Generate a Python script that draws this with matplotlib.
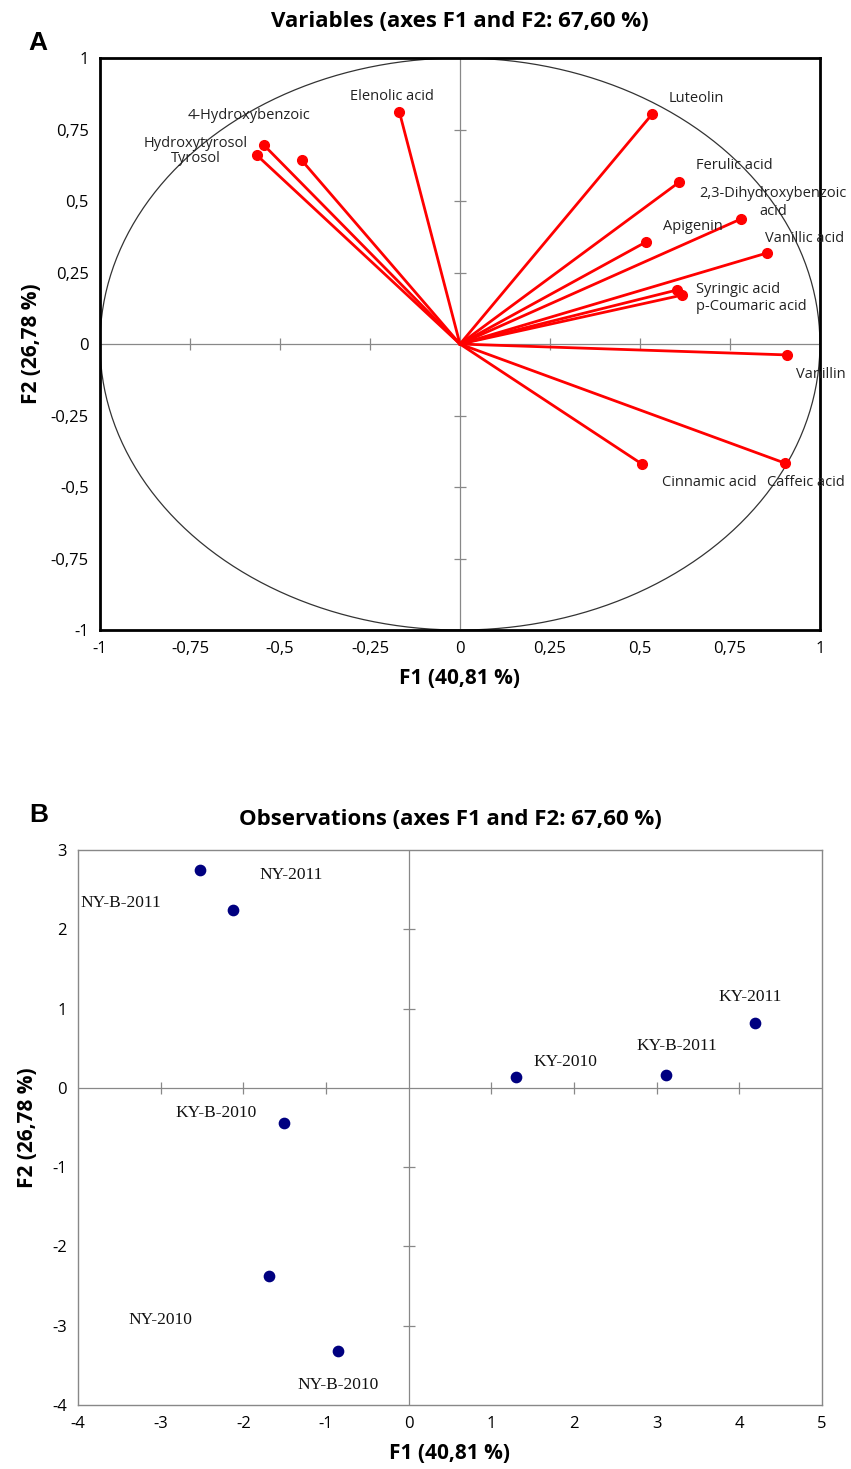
import numpy as np
import matplotlib
matplotlib.use("Agg")
import matplotlib.pyplot as plt
from matplotlib import font_manager

plt.rcParams['axes.unicode_minus'] = False

# pick a narrow sans that looks a bit like Calibri
names = set(f.name for f in font_manager.fontManager.ttflist)
narrow = 'Liberation Sans Narrow' if 'Liberation Sans Narrow' in names else 'Open Sans'
serif = 'Liberation Serif'

# --- panel A : variables (correlation circle) ---
var_names = ['Elenolic acid', '4-Hydroxybenzoic', 'Hydroxytyrosol', 'Tyrosol',
             'Luteolin', 'Ferulic acid', '2,3-Dihydroxybenzoic\nacid', 'Apigenin',
             'Vanillic acid', 'Syringic acid', 'p-Coumaric acid', 'Vanillin',
             'Caffeic acid', 'Cinnamic acid']
var_f1 = [-0.168, -0.44, -0.545, -0.564, 0.534, 0.609, 0.78, 0.517,
          0.852, 0.603, 0.617, 0.908, 0.902, 0.506]
var_f2 = [0.81, 0.643, 0.696, 0.66, 0.804, 0.566, 0.437, 0.357,
          0.318, 0.189, 0.171, -0.038, -0.416, -0.42]
# label anchor (x, y, ha)
var_lab = [(-0.19, 0.865, 'center'), (-0.585, 0.80, 'center'), (-0.59, 0.70, 'right'),
           (-0.665, 0.65, 'right'), (0.58, 0.86, 'left'), (0.656, 0.625, 'left'),
           (0.87, 0.495, 'center'), (0.564, 0.41, 'left'), (0.846, 0.37, 'left'),
           (0.656, 0.19, 'left'), (0.656, 0.13, 'left'), (0.933, -0.105, 'left'),
           (0.852, -0.483, 'left'), (0.56, -0.483, 'left')]
a_ticks = [-1, -0.75, -0.5, -0.25, 0, 0.25, 0.5, 0.75, 1]
a_ticklabels = ['-1', '-0,75', '-0,5', '-0,25', '0', '0,25', '0,5', '0,75', '1']

# --- panel B : observations ---
obs_names = ['NY-B-2011', 'NY-2011', 'KY-B-2010', 'NY-2010', 'NY-B-2010',
             'KY-2010', 'KY-B-2011', 'KY-2011']
obs_f1 = [-2.52, -2.13, -1.51, -1.69, -0.86, 1.30, 3.12, 4.19]
obs_f2 = [2.75, 2.24, -0.45, -2.37, -3.32, 0.14, 0.16, 0.82]
obs_lab = [(-3.97, 2.33), (-1.80, 2.69), (-2.82, -0.32), (-3.39, -2.93),
           (-1.34, -3.75), (1.51, 0.33), (2.76, 0.53), (3.75, 1.15)]
b_xticks = [-4, -3, -2, -1, 0, 1, 2, 3, 4, 5]
b_yticks = [-4, -3, -2, -1, 0, 1, 2, 3]

fig = plt.figure(figsize=(8.51, 14.69), dpi=100)

# ---------------- A ----------------
ax = fig.add_axes([0.1175, 0.5711, 0.846, 0.3894])
t = np.linspace(0, 2 * np.pi, 400)
ax.plot(np.cos(t), np.sin(t), color='#333333', lw=0.9, zorder=1)
ax.axhline(0, color='#888888', lw=0.9, zorder=1)
ax.axvline(0, color='#888888', lw=0.9, zorder=1)
tk = [v for v in a_ticks if v not in (-1, 0, 1)]
ax.plot(tk, [0] * len(tk), ls='none', marker='|', ms=9, mew=0.9, color='#888888', zorder=1)
ax.plot([0] * len(tk), tk, ls='none', marker='_', ms=9, mew=0.9, color='#888888', zorder=1)
for i in range(len(var_names)):
    ax.plot([0, var_f1[i]], [0, var_f2[i]], color='#ff0000', lw=2, zorder=3)
    ax.plot(var_f1[i], var_f2[i], 'o', color='#ff0000', ms=7, zorder=4)
    lx, ly, ha = var_lab[i]
    ax.text(lx, ly, var_names[i], ha=ha, va='center', fontsize=10.5,
            family=narrow, color='#222222', multialignment='center', zorder=5)
ax.set_xlim(-1, 1)
ax.set_ylim(-1, 1)
ax.set_xticks(a_ticks)
ax.set_xticklabels(a_ticklabels)
ax.set_yticks(a_ticks)
ax.set_yticklabels(a_ticklabels)
ax.tick_params(length=0, pad=8, labelsize=12)
for lab in ax.get_xticklabels() + ax.get_yticklabels():
    lab.set_family(narrow)
for s in ax.spines.values():
    s.set_linewidth(2)
    s.set_color('black')
ax.set_xlabel('F1 (40,81 %)', fontsize=15, fontweight='bold', family=narrow, labelpad=8)
ax.set_ylabel('F2 (26,78 %)', fontsize=15, fontweight='bold', family=narrow, labelpad=6)
ax.set_title('Variables (axes F1 and F2: 67,60 %)', fontsize=16, fontweight='bold',
             family=narrow, pad=22)
fig.text(0.045, 0.971, 'A', fontsize=19, fontweight='bold', family='Liberation Sans',
         va='center', ha='center')

# ---------------- B ----------------
bx = fig.add_axes([0.0917, 0.0436, 0.874, 0.3778])
bx.axhline(0, color='#888888', lw=0.9, zorder=1)
bx.axvline(0, color='#888888', lw=0.9, zorder=1)
tx = [v for v in b_xticks if v not in (-4, 0, 5)]
ty = [v for v in b_yticks if v not in (-4, 0, 3)]
bx.plot(tx, [0] * len(tx), ls='none', marker='|', ms=9, mew=0.9, color='#888888', zorder=1)
bx.plot([0] * len(ty), ty, ls='none', marker='_', ms=9, mew=0.9, color='#888888', zorder=1)
bx.scatter(obs_f1, obs_f2, s=55, color='#000080', zorder=3)
for i in range(len(obs_names)):
    bx.text(obs_lab[i][0], obs_lab[i][1], obs_names[i], ha='left', va='center',
            fontsize=12.5, family=serif, color='#111111')
bx.set_xlim(-4, 5)
bx.set_ylim(-4, 3)
bx.set_xticks(b_xticks)
bx.set_yticks(b_yticks)
bx.tick_params(length=0, pad=8, labelsize=12)
for lab in bx.get_xticklabels() + bx.get_yticklabels():
    lab.set_family(narrow)
for s in bx.spines.values():
    s.set_linewidth(1)
    s.set_color('#888888')
bx.set_xlabel('F1 (40,81 %)', fontsize=15, fontweight='bold', family=narrow, labelpad=8)
bx.set_ylabel('F2 (26,78 %)', fontsize=15, fontweight='bold', family=narrow, labelpad=10)
bx.set_title('Observations (axes F1 and F2: 67,60 %)', fontsize=16, fontweight='bold',
             family=narrow, pad=18)
fig.text(0.045, 0.445, 'B', fontsize=19, fontweight='bold', family='Liberation Sans',
         va='center', ha='center')

fig.savefig('out.png', dpi=100)
